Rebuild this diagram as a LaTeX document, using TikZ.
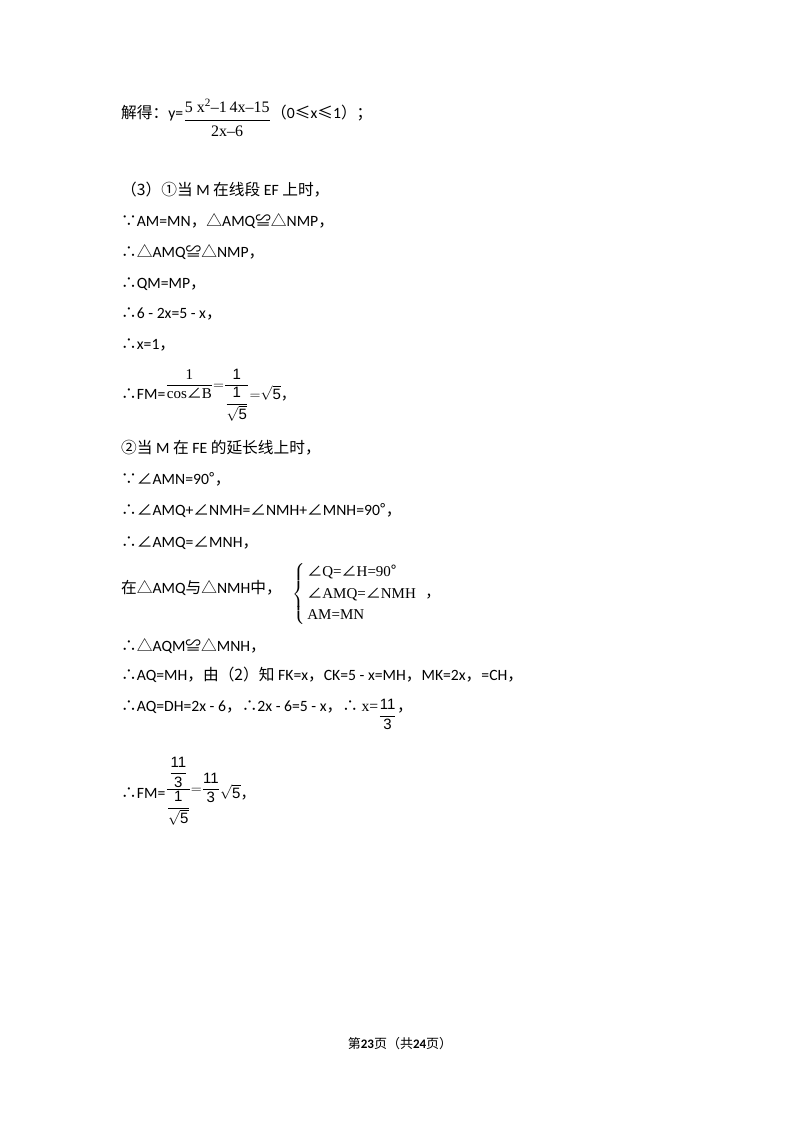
\documentclass[tikz,border=0pt]{standalone}
\usepackage{fontspec}
\usepackage{amsmath}
\setmainfont{Carlito}
\newfontfamily\zhfont{Noto Sans CJK SC}
\newfontfamily\eqfont{Liberation Serif}
\newfontfamily\eqsans{Liberation Sans}
\newcommand{\zh}[1]{{\zhfont #1}}
\newcommand{\eqr}[1]{\hbox{\eqfont #1}}
\newcommand{\eqs}[1]{\hbox{\eqsans #1}}

\begin{document}
\begin{tikzpicture}[x=1pt,y=-1pt]
  \tikzstyle{line} = [anchor=base west, inner sep=0pt, font=\fontsize{15.7}{18}\selectfont]
  \tikzstyle{eq} = [anchor=base west, inner sep=0pt, font=\fontsize{15}{18}\selectfont]
  \useasboundingbox[fill=white] (0,0) rectangle (800,1132);

  % result of part (2)
  \node (solve) [line] at (121,118) {\zh{解得：}y=};
  \node (solvefrac) [eq, font=\fontsize{16}{18}\selectfont, yshift=-6.5pt] at (solve.base east) {$\dfrac{\eqr{5 x\textsuperscript{2}–1\,4x–15}}{\eqr{2x–6}}$};
  \node (range) [line] at (solvefrac.east |- solve.base) {\zh{（}0\zh{≤}x\zh{≤}1\zh{）；}};

  % part (3), case one
  \node (case1) [line] at (121,195) {\zh{（3）①当} M \zh{在线段} EF \zh{上时，}};
  \node (s1) [line] at (121,226) {\zh{∵}AM=MN\zh{，△}AMQ\zh{≌△}NMP\zh{，}};
  \node (s2) [line] at (121,257) {\zh{∴△}AMQ\zh{≌△}NMP\zh{，}};
  \node (s3) [line] at (121,288) {\zh{∴}QM=MP\zh{，}};
  \node (s4) [line] at (121,318) {\zh{∴}6 - 2x=5 - x\zh{，}};
  \node (s5) [line] at (121,349) {\zh{∴}x=1\zh{，}};
  \node (fm) [line] at (121,399) {\zh{∴}FM=};
  \node (fmfrac) [eq, yshift=10pt] at (fm.base east) {$\dfrac{\eqr{1}}{\eqr{cos\zh{∠}B}}{=}\dfrac{\eqs{1}}{\dfrac{\eqs{1}}{\sqrt{\eqs{5}}}}$};
  \node (fmval) [eq] at (fmfrac.east |- fm.base) {${=}\sqrt{\eqs{5}}$\zh{，}};

  % case two
  \node (case2) [line] at (121,453) {\zh{②当} M \zh{在} FE \zh{的延长线上时，}};
  \node (t1) [line] at (121,484) {\zh{∵∠}AMN=90\zh{°，}};
  \node (t2) [line] at (121,515) {\zh{∴∠}AMQ+\zh{∠}NMH=\zh{∠}NMH+\zh{∠}MNH=90\zh{°，}};
  \node (t3) [line] at (121,547) {\zh{∴∠}AMQ=\zh{∠}MNH\zh{，}};
  \node (t4) [line] at (121,593) {\zh{在△}AMQ\zh{与△}NMH\zh{中，}};
  \node (sys) [eq, anchor=west] at (292,594) {\renewcommand{\arraystretch}{1.2}$\left\{\,\begin{array}{@{}l}
      \eqr{\zh{∠}Q=\zh{∠}H=90\zh{°}}\\
      \eqr{\zh{∠}AMQ=\zh{∠}NMH}\\
      \eqr{AM=MN}
    \end{array}\right.$\ \zh{，}};
  \node (t5) [line] at (121,651) {\zh{∴△}AQM\zh{≌△}MNH\zh{，}};
  \node (t6) [line] at (121,680) {\zh{∴}AQ=MH\zh{，由（2）知} FK=x\zh{，}CK=5 - x=MH\zh{，}MK=2x\zh{，}=CH\zh{，}};
  \node (t7) [line] at (121,711) {\zh{∴}AQ=DH=2x - 6\zh{，∴}2x - 6=5 - x\zh{，∴} {\eqfont x=}};
  \node (t7frac) [eq, yshift=-8.5pt] at (t7.base east) {$\dfrac{\eqs{11}}{\eqs{3}}$};
  \node (t7end) [line] at (t7frac.east |- t7.base) {\zh{，}};
  \node (fm2) [line] at (121,798) {\zh{∴}FM=};
  \node (fm2frac) [eq, yshift=5pt] at (fm2.base east) {$\dfrac{\dfrac{\eqs{11}}{\eqs{3}}}{\dfrac{\eqs{1}}{\sqrt{\eqs{5}}}}{=}\dfrac{\eqs{11}}{\eqs{3}}$};
  \node (fm2val) [eq] at (fm2frac.east |- fm2.base) {$\sqrt{\eqs{5}}$\zh{，}};

  % footer
  \node (page) [anchor=base, inner sep=0pt, font=\fontsize{13}{15}\selectfont] at (400,1048) {\zh{第}\textbf{23}\zh{页（共}\textbf{24}\zh{页）}};
\end{tikzpicture}
\end{document}
